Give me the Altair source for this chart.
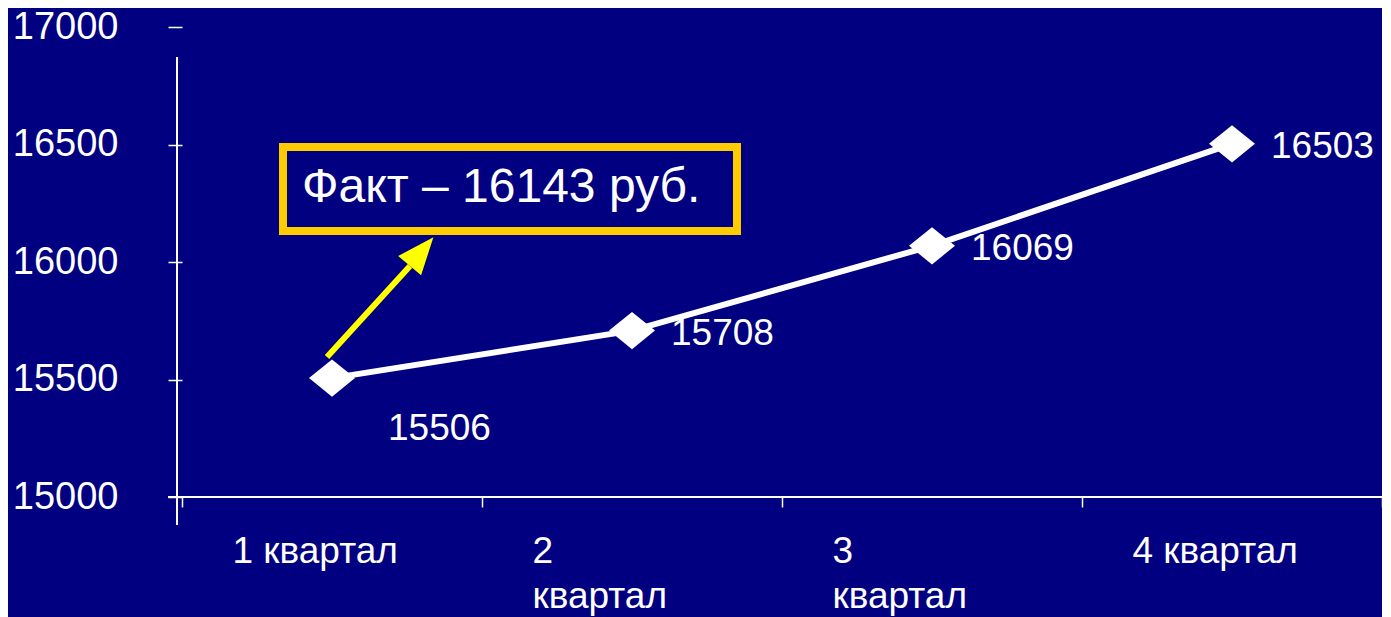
import altair as alt
import pandas as pd

# ---- data ----
quarters = ["1 квартал", "2 квартал", "3 квартал", "4 квартал"]
values = [15506, 15708, 16069, 16503]
y_ticks = [15000, 15500, 16000, 16500, 17000]
note_text = ["Факт – 16143 руб."]

df = pd.DataFrame({"quarter": quarters, "value": values, "idx": list(range(len(quarters)))})
one = pd.DataFrame({"note": note_text})

BG = "#000080"
FONT = "Liberation Sans"
W, H = 1200, 470
BAND = W / len(quarters)

x_enc = alt.X(
    "quarter:N",
    sort=quarters,
    scale=alt.Scale(paddingInner=0, paddingOuter=0),
    axis=alt.Axis(
        title=None, domain=False, grid=False, tickBand="extent",
        tickColor="white", tickSize=10, tickWidth=1.5,
        labelColor="white", labelFont=FONT, labelFontSize=37, labelAngle=0,
        labelAlign="left", labelBaseline="top", labelOffset=-(BAND / 2) + 50,
        labelPadding=26, labelLineHeight=45, labelOverlap=False,
        labelBound=False, labelFlush=False,
        labelExpr="(datum.value == '2 квартал' || datum.value == '3 квартал') ? split(datum.value, ' ') : datum.value",
    ),
)
y_enc = alt.Y(
    "value:Q",
    scale=alt.Scale(domain=[15000, 17000], nice=False, zero=False),
    axis=alt.Axis(
        values=y_ticks, title=None, domain=False, grid=False, format="d",
        tickColor="white", tickSize=14, tickWidth=1.5,
        labelColor="white", labelFont=FONT, labelFontSize=38, labelPadding=50,
    ),
)

base = alt.Chart(df).encode(x=x_enc, y=y_enc)

line = base.mark_line(color="white", strokeWidth=6)
pts = base.mark_point(
    shape="M-1,0L0,-0.81L1,0L0,0.81Z", filled=True, fill="white",
    opacity=1, size=2116, strokeWidth=0,
)
lab_rest = base.transform_filter("datum.idx > 0").mark_text(
    align="left", baseline="middle", dx=39, dy=3, fontSize=37, font=FONT, color="white"
).encode(text="value:Q")
lab_first = base.transform_filter("datum.idx == 0").mark_text(
    align="left", baseline="middle", dx=56, dy=51, fontSize=37, font=FONT, color="white"
).encode(text="value:Q")

# custom axis lines like the original slide
yrule = alt.Chart(one).mark_rule(color="white", strokeWidth=2).encode(
    x=alt.value(-5), y=alt.value(30), y2=alt.value(498)
)
xrule = alt.Chart(one).mark_rule(color="white", strokeWidth=2).encode(
    x=alt.value(-14), x2=alt.value(W), y=alt.value(H)
)

# annotation box and arrow
box = alt.Chart(one).mark_rect(
    fill=BG, fillOpacity=0, stroke="#FFCC00", strokeWidth=8
).encode(x=alt.value(101), x2=alt.value(555), y=alt.value(120), y2=alt.value(204))
note = alt.Chart(one).mark_text(
    align="left", baseline="alphabetic", fontSize=48, font=FONT, color="white"
).encode(text="note:N", x=alt.value(120), y=alt.value(175))
arrow_line = alt.Chart(one).mark_rule(color="#FFFF00", strokeWidth=6).encode(
    x=alt.value(145), y=alt.value(330), x2=alt.value(228), y2=alt.value(239)
)
arrow_head = alt.Chart(one).mark_point(
    shape="M0,-1L0.81,1L-0.81,1Z", filled=True, fill="#FFFF00", opacity=1,
    size=1369, angle=40, strokeWidth=0,
).encode(x=alt.value(239.5), y=alt.value(224.5))

chart = alt.layer(
    yrule, xrule, line, pts, lab_rest, lab_first, box, note, arrow_line, arrow_head
).properties(
    width=W, height=H,
    background=BG,
    padding={"left": 174, "top": 19, "right": 0, "bottom": 125},
    autosize=alt.AutoSizeParams(type="none"),
).configure_view(stroke=None)

chart.save("out.html", embed_options={"renderer": "svg", "actions": False})
